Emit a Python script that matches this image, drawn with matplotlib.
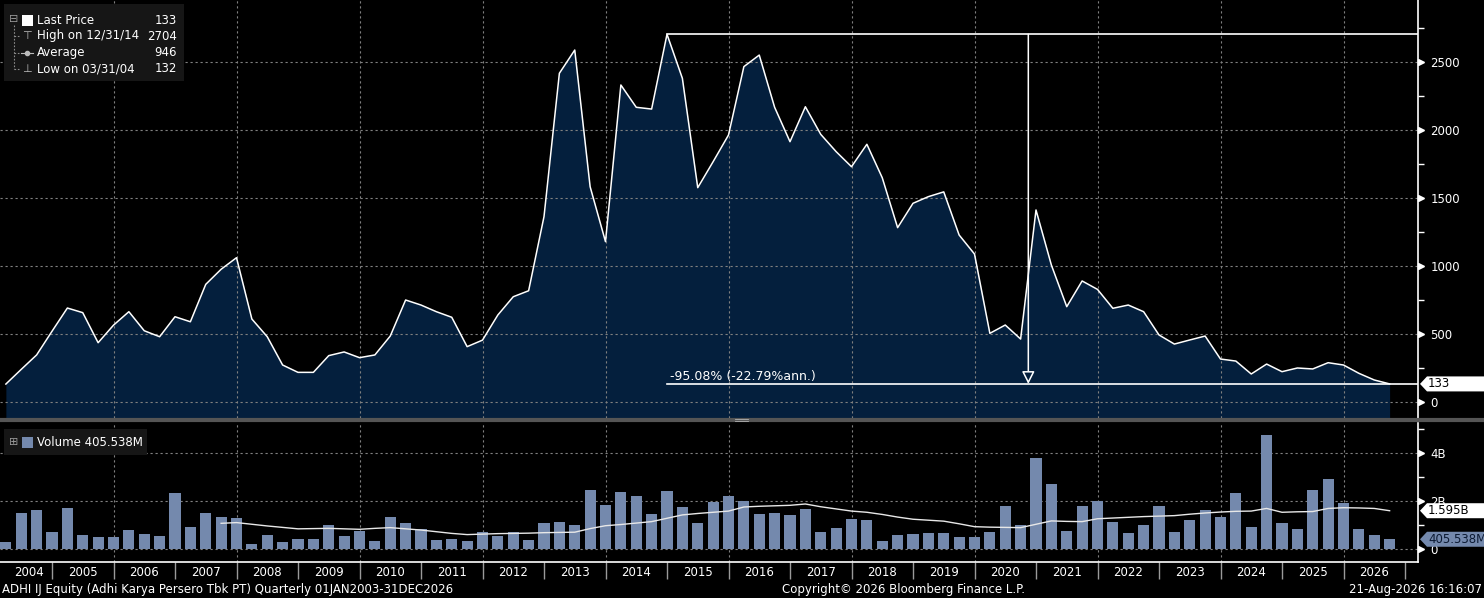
import numpy as np
import matplotlib.pyplot as plt
from matplotlib import transforms
from matplotlib.patches import Polygon, Rectangle
from matplotlib.lines import Line2D

plt.rcParams['font.family'] = ['DejaVu Sans']

# ==========================
# Datos (trimestral, 2004Q1 .. 2026Q3)
# ==========================
price = [132, 240, 346, 520, 691, 657, 436, 565, 664, 524,
         480, 627, 590, 865, 976, 1061, 610, 480, 272, 218,
         218, 341, 368, 326, 346, 485, 750, 713, 664, 623,
         407, 455, 640, 774, 818, 1363, 2417, 2588, 1583, 1179,
         2331, 2167, 2154, 2704, 2380, 1576, 1767, 1963, 2466, 2551,
         2167, 1914, 2171, 1968, 1841, 1730, 1895, 1649, 1282, 1461,
         1510, 1545, 1228, 1088, 505, 566, 463, 1412, 1007, 701,
         890, 828, 689, 713, 664, 493, 426, 456, 485, 316,
         301, 206, 279, 223, 250, 243, 289, 272, 211, 162,
         133]

# volumen en miles de millones
volume_b = [0.31, 1.51, 1.63, 0.72, 1.72, 0.58, 0.51, 0.51, 0.79, 0.63,
            0.54, 2.35, 0.93, 1.51, 1.35, 1.31, 0.21, 0.58, 0.29, 0.42,
            0.42, 1.00, 0.56, 0.76, 0.35, 1.35, 1.10, 0.83, 0.38, 0.42,
            0.35, 0.70, 0.56, 0.72, 0.38, 1.10, 1.14, 1.00, 2.46, 1.83,
            2.38, 2.21, 1.46, 2.42, 1.75, 1.08, 1.97, 2.21, 2.00, 1.46,
            1.50, 1.42, 1.67, 0.71, 0.875, 1.25, 1.21, 0.33, 0.58, 0.625,
            0.67, 0.67, 0.50, 0.50, 0.71, 1.79, 1.00, 3.79, 2.71, 0.75,
            1.79, 2.00, 1.125, 0.67, 1.00, 1.79, 0.71, 1.21, 1.625, 1.33,
            2.33, 0.92, 4.75, 1.08, 0.83, 2.46, 2.92, 1.92, 0.83, 0.58,
            0.4055]

# media movil del volumen (desde el trimestre 14)
vol_ma_start = 14
vol_ma_b = [1.07, 1.10, 1.03, 0.96, 0.90, 0.84, 0.85, 0.86, 0.84, 0.82,
            0.86, 0.89, 0.84, 0.79, 0.72, 0.65, 0.60, 0.62, 0.64, 0.65,
            0.66, 0.68, 0.69, 0.70, 0.85, 0.97, 1.02, 1.08, 1.14, 1.28,
            1.42, 1.48, 1.53, 1.58, 1.75, 1.78, 1.80, 1.82, 1.875, 1.76,
            1.67, 1.58, 1.53, 1.44, 1.33, 1.24, 1.20, 1.16, 1.05, 0.93,
            0.91, 0.90, 0.89, 1.03, 1.17, 1.15, 1.14, 1.26, 1.29, 1.32,
            1.35, 1.37, 1.39, 1.45, 1.50, 1.54, 1.57, 1.58, 1.69, 1.53,
            1.55, 1.56, 1.69, 1.72, 1.71, 1.69, 1.595]

years = list(range(2004, 2027))
price_ticks = [0, 500, 1000, 1500, 2000, 2500]
vol_ticks = [0, 2, 4]
vol_tick_labels = ['0', '2B', '4B']

legend_rows = [("Last Price", "133"),
               ("High on 12/31/14", "2704"),
               ("Average", "946"),
               ("Low on 03/31/04", "132")]
volume_label = "Volume 405.538M"
last_vol_text = "405.538M"
last_ma_text = "1.595B"
change_text = "-95.08% (-22.79%ann.)"
footer_left = "ADHI IJ Equity (Adhi Karya Persero Tbk PT) Quarterly 01JAN2003-31DEC2026"
footer_mid = "Copyright\u00a9 2026 Bloomberg Finance L.P."
footer_right = "21-Aug-2026 16:16:07"

# ==========================
# Estilo
# ==========================
BG = '#000000'
FILL = '#041f3d'
BAR = '#7489ad'
GRID = '#808080'
FS = 8.5

W, H = 1484, 598


def fx(px):
    return px / W


def fy(py):
    return 1 - py / H


t = 2004 + (np.arange(len(price)) + 1) / 4
xlim = (2005 - 52 / 61.5, 2005 + (1418 - 52) / 61.5)

fig = plt.figure(figsize=(W / 100, H / 100), dpi=100, facecolor=BG)
ax = fig.add_axes([0, fy(418), fx(1418), 418 / H], facecolor=BG)
av = fig.add_axes([0, fy(562), fx(1418), (562 - 423) / H], facecolor=BG)

grid_kw = dict(color=GRID, lw=0.8, ls=(0, (2, 2.5)), zorder=2)

# ==========================
# Panel de precio
# ==========================
ylo = -117.6
ax.fill_between(t, price, ylo - 50, color=FILL, lw=0, zorder=1)
for g in range(2006, 2027, 2):
    ax.axvline(g, **grid_kw)
for v in price_ticks:
    ax.axhline(v, **grid_kw)
ax.plot(t, price, color='white', lw=1.1, zorder=4)

i_hi = int(np.argmax(price))
t_hi, p_hi, p_last = t[i_hi], price[i_hi], price[-1]
ax.plot([t_hi, xlim[1]], [p_hi, p_hi], color='white', lw=1.2, zorder=5)
ax.plot([t_hi, xlim[1]], [p_last, p_last], color='white', lw=1.2, zorder=5)
t_mid = (t_hi + t[-1]) / 2
ax.annotate('', xy=(t_mid, p_last), xytext=(t_mid, p_hi),
            arrowprops=dict(arrowstyle='-|>,head_length=0.75,head_width=0.38',
                            fc=FILL, ec='white', lw=1.1,
                            shrinkA=0, shrinkB=0),
            zorder=6)
ax.annotate(change_text, xy=(t_hi, p_last), xytext=(2, 1),
            textcoords='offset points', color='white', fontsize=9,
            va='bottom', ha='left', zorder=6)

ax.set_xlim(xlim)
ax.set_ylim(ylo, 2955.9)
ax.set_xticks([])
ax.yaxis.tick_right()
ax.set_yticks(price_ticks)
ax.set_yticks(range(250, 2800, 500), minor=True)
ax.tick_params(axis='y', which='major', length=0, pad=9, colors='white',
               labelsize=FS)
ax.tick_params(axis='y', which='minor', length=4, width=1, color='white')

# ==========================
# Panel de volumen
# ==========================
for g in range(2006, 2027, 2):
    av.axvline(g, **grid_kw)
for v in vol_ticks:
    av.axhline(v, **grid_kw)
av.bar(t, volume_b, width=0.18, color=BAR, zorder=3)
av.plot(t[vol_ma_start:], vol_ma_b, color='#e8e8e8', lw=1.0, zorder=4)

av.set_xlim(xlim)
av.set_ylim(-0.542, 5.25)
av.yaxis.tick_right()
av.set_yticks(vol_ticks)
av.set_yticklabels(vol_tick_labels)
av.set_yticks([1, 3, 5], minor=True)
av.tick_params(axis='y', which='major', length=0, pad=9, colors='white',
               labelsize=FS)
av.tick_params(axis='y', which='minor', length=4, width=1, color='white')

# eje de fechas: separadores por año y etiquetas centradas
av.set_xticks(range(2005, 2028))
av.set_xticklabels([])
label_pos = [(t[0] + 2005) / 2] + [y + 0.5 for y in years[1:]]
av.set_xticks(label_pos, minor=True)
av.set_xticklabels([str(y) for y in years], minor=True)
av.tick_params(axis='x', which='major', length=12.5, width=1,
               color='#9a9a9a', direction='out')
av.tick_params(axis='x', which='minor', length=0, pad=3, colors='white',
               labelsize=FS)

for a in (ax, av):
    for s in ('top', 'left', 'bottom'):
        a.spines[s].set_visible(False)
    a.spines['right'].set_color('white')
    a.spines['right'].set_linewidth(1.2)
av.spines['bottom'].set_visible(True)
av.spines['bottom'].set_color('white')
av.spines['bottom'].set_linewidth(1.2)

# marcadores triangulares de los ticks mayores
for a, ticks in ((ax, price_ticks), (av, vol_ticks)):
    bl = transforms.blended_transform_factory(a.transAxes, a.transData)
    a.plot([1.0] * len(ticks), ticks, ls='none', marker='>', ms=4.5,
           color='white', transform=bl + transforms.ScaledTranslation(
               3 / 100, 0, fig.dpi_scale_trans), clip_on=False, zorder=6)


# etiquetas de último valor a la derecha
def tag(a, value, text, fc, tc):
    bl = transforms.blended_transform_factory(a.transAxes, a.transData)
    trans = fig.dpi_scale_trans + transforms.ScaledTranslation(1.0, value, bl)
    verts = np.array([(2, 0), (9, 7.5), (70, 7.5), (70, -7.5), (9, -7.5)]) / 100
    fig.add_artist(Polygon(verts, closed=True, transform=trans, fc=fc,
                           ec='none', zorder=10))
    fig.text(1.0, value, text, color=tc, fontsize=FS, ha='left', va='center',
             transform=transforms.offset_copy(bl, fig=fig, x=10, y=0,
                                              units='dots'),
             zorder=11)


tag(ax, price[-1], legend_rows[0][1], 'white', 'black')
tag(av, vol_ma_b[-1], last_ma_text, 'white', 'black')
tag(av, volume_b[-1], last_vol_text, BAR, '#0c1a33')

# ==========================
# Leyendas
# ==========================
fig.add_artist(Rectangle((fx(4), fy(81)), fx(180), 77 / H, fc='#161616',
                         ec='none', zorder=8))
row_y = [20.5, 36, 52.5, 68.5]
for (lab, val), ry in zip(legend_rows, row_y):
    fig.text(fx(37), fy(ry), lab, color='white', fontsize=FS, va='center',
             ha='left', zorder=9)
    fig.text(fx(177), fy(ry), val, color='white', fontsize=FS, va='center',
             ha='right', zorder=9)
fig.text(fx(14), fy(19), '\u229f', color='#9a9a9a', fontsize=8, va='center',
         ha='center', zorder=9)
fig.add_artist(Rectangle((fx(21.5), fy(25.5)), fx(11), 11 / H, fc='white',
                         ec='none', zorder=9))
tree = dict(color='#8a8a8a', lw=0.8, ls=(0, (1.5, 1.5)), zorder=9)
fig.add_artist(Line2D([fx(14), fx(14)], [fy(25), fy(69)], **tree))
for ry in row_y[1:]:
    fig.add_artist(Line2D([fx(14), fx(20)], [fy(ry), fy(ry)], **tree))
fig.text(fx(27), fy(36), '\u22a4', color='#bbbbbb', fontsize=8, va='center',
         ha='center', zorder=9)
fig.add_artist(Line2D([fx(21), fx(33)], [fy(52.5), fy(52.5)], color='#bbbbbb',
                      lw=0.8, zorder=9))
fig.add_artist(Line2D([fx(27)], [fy(52.5)], marker='o', ms=3, color='#bbbbbb',
                      zorder=9))
fig.text(fx(27), fy(68.5), '\u22a5', color='#bbbbbb', fontsize=8, va='center',
         ha='center', zorder=9)

fig.add_artist(Rectangle((fx(4), fy(455)), fx(143), 26 / H, fc='#161616',
                         ec='none', zorder=8))
fig.text(fx(14), fy(442), '\u229e', color='#9a9a9a', fontsize=8, va='center',
         ha='center', zorder=9)
fig.add_artist(Rectangle((fx(21.5), fy(447.5)), fx(11), 11 / H, fc=BAR,
                         ec='none', zorder=9))
fig.text(fx(37), fy(442), volume_label, color='white', fontsize=FS,
         va='center', ha='left', zorder=9)

# separador entre paneles
fig.add_artist(Line2D([0, 1], [fy(420), fy(420)], color='#555555', lw=3,
                      zorder=7))
for dy in (-1, 1):
    fig.add_artist(Line2D([fx(735), fx(748)], [fy(420 + dy), fy(420 + dy)],
                          color='#b0b0b0', lw=0.6, zorder=8))

# pie
fig.text(fx(2), fy(590), footer_left, color='white', fontsize=FS,
         va='center', ha='left')
fig.text(fx(904), fy(590), footer_mid, color='white', fontsize=FS,
         va='center', ha='center')
fig.text(fx(1482), fy(590), footer_right, color='white', fontsize=FS,
         va='center', ha='right')

fig.savefig('out.png', dpi=100, facecolor=BG)
